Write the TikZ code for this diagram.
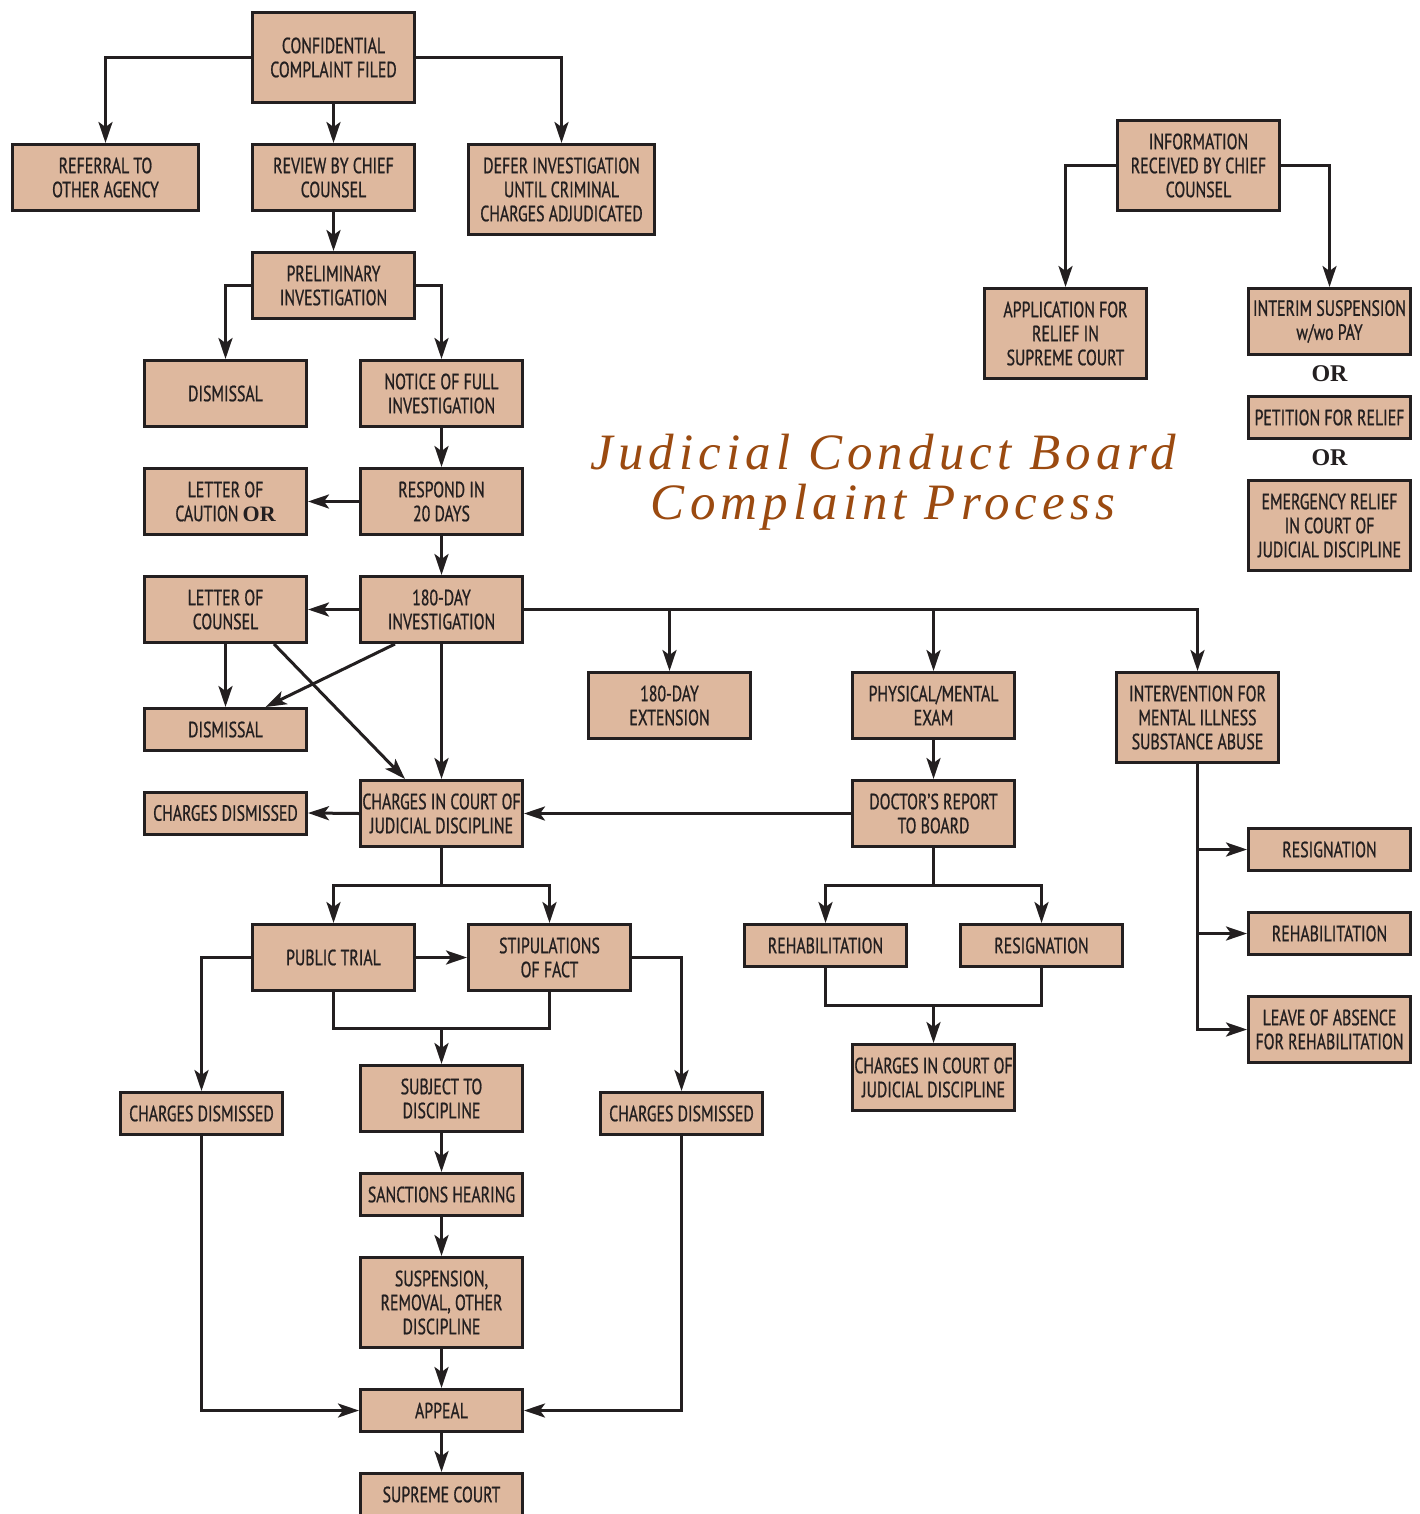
\documentclass[tikz,border=0pt]{standalone}
\usepackage{fontspec}
\setmainfont{PT Sans}[FakeStretch=0.72, FakeBold=0.8]
\newfontfamily\orfont{Liberation Serif}
\newfontfamily\titlefont{Liberation Serif Italic}[LetterSpace=10]
\usetikzlibrary{arrows.meta}
\definecolor{boxfill}{RGB}{222,184,158}
\definecolor{ink}{RGB}{35,31,32}
\definecolor{titlebrown}{RGB}{155,74,16}
\begin{document}
\begin{tikzpicture}[x=1pt,y=-1pt,
  box/.style={draw=ink, fill=boxfill, line width=3pt, minimum width=162pt, inner sep=0pt, align=center, font=\fontsize{22}{24}\selectfont, text=ink},
  wide/.style={minimum width=186pt},
  hone/.style={box, minimum height=42pt},
  htwo/.style={box, minimum height=66pt},
  hthree/.style={box, minimum height=90pt},
  conn/.style={draw=ink, line width=3pt},
  arr/.style={conn, -{Stealth[length=21pt,width=14pt,inset=5pt]}},
  ortext/.style={font=\orfont\bfseries\fontsize{24}{24}\selectfont, text=ink, inner sep=0pt},
  titletext/.style={font=\titlefont\fontsize{51}{50}\selectfont, text=titlebrown, inner sep=0pt, align=center},
]
\fill[white] (0,0) rectangle (1419,1514);
\clip (0,0) rectangle (1419,1514);
% left column boxes
\node[hthree] (conf) at (333.5,57.5) {CONFIDENTIAL\\COMPLAINT FILED};
\node[htwo,wide] (referral) at (105.5,177.5) {REFERRAL TO\\OTHER AGENCY};
\node[htwo] (review) at (333.5,177.5) {REVIEW BY CHIEF\\COUNSEL};
\node[hthree,wide] (defer) at (561.5,189.5) {DEFER INVESTIGATION\\UNTIL CRIMINAL\\CHARGES ADJUDICATED};
\node[htwo] (prelim) at (333.5,285.5) {PRELIMINARY\\INVESTIGATION};
\node[htwo] (dism1) at (225.5,393.5) {DISMISSAL};
\node[htwo] (notice) at (441.5,393.5) {NOTICE OF FULL\\INVESTIGATION};
\node[htwo] (caution) at (225.5,501.5) {LETTER OF\\CAUTION {\orfont\bfseries OR}};
\node[htwo] (respond) at (441.5,501.5) {RESPOND IN\\20 DAYS};
\node[htwo] (counsel) at (225.5,609.5) {LETTER OF\\COUNSEL};
\node[htwo] (inv180) at (441.5,609.5) {180-DAY\\INVESTIGATION};
\node[hone] (dism2) at (225.5,729.5) {DISMISSAL};
\node[htwo] (ext) at (669.5,705.5) {180-DAY\\EXTENSION};
\node[htwo] (phys) at (933.5,705.5) {PHYSICAL/MENTAL\\EXAM};
\node[hthree] (interv) at (1197.5,717.5) {INTERVENTION FOR\\MENTAL ILLNESS\\SUBSTANCE ABUSE};
\node[hone] (chdis1) at (225.5,813) {CHARGES DISMISSED};
\node[htwo] (charges) at (441.5,813.5) {CHARGES IN COURT OF\\JUDICIAL DISCIPLINE};
\node[htwo] (doctor) at (933.5,813.5) {DOCTOR’S REPORT\\TO BOARD};
\node[htwo] (trial) at (333.5,957.5) {PUBLIC TRIAL};
\node[htwo] (stip) at (549.5,957.5) {STIPULATIONS\\OF FACT};
\node[hone] (rehab1) at (825.5,945.5) {REHABILITATION};
\node[hone] (resign1) at (1041.5,945.5) {RESIGNATION};
\node[htwo] (charges2) at (933.5,1077.5) {CHARGES IN COURT OF\\JUDICIAL DISCIPLINE};
\node[hone] (resign2) at (1329.5,849.5) {RESIGNATION};
\node[hone] (rehab2) at (1329.5,933.5) {REHABILITATION};
\node[htwo] (leave) at (1329.5,1029.5) {LEAVE OF ABSENCE\\FOR REHABILITATION};
\node[hone] (chdisL) at (201.5,1113.5) {CHARGES DISMISSED};
\node[htwo] (subject) at (441.5,1098.5) {SUBJECT TO\\DISCIPLINE};
\node[hone] (chdisR) at (681.5,1113.5) {CHARGES DISMISSED};
\node[hone] (sanctions) at (441.5,1194.5) {SANCTIONS HEARING};
\node[hthree] (suspension) at (441.5,1302.5) {SUSPENSION,\\REMOVAL, OTHER\\DISCIPLINE};
\node[hone] (appeal) at (441.5,1410.5) {APPEAL};
\node[hone] (supreme) at (441.5,1494.5) {SUPREME COURT};
% right top
\node[hthree] (info) at (1198.5,165.5) {INFORMATION\\RECEIVED BY CHIEF\\COUNSEL};
\node[hthree] (app) at (1065.5,333.5) {APPLICATION FOR\\RELIEF IN\\SUPREME COURT};
\node[htwo] (interim) at (1329.5,321.5) {INTERIM SUSPENSION\\w/wo PAY};
\node[ortext] (or1) at (1329.5,374) {OR};
\node[hone] (petition) at (1329.5,417.5) {PETITION FOR RELIEF};
\node[ortext] (or2) at (1329.5,458) {OR};
\node[hthree] (emerg) at (1329.5,525.5) {EMERGENCY RELIEF\\IN COURT OF\\JUDICIAL DISCIPLINE};
% title
\node[titletext] (title) at (883,482) {Judicial Conduct Board\\Complaint Process};
% coordinates
\coordinate (f1) at (441.5,885);
\coordinate (j1) at (441.5,1028);
\coordinate (f2) at (933.5,885);
\coordinate (j2) at (933.5,1005);
% connectors
\draw[arr] (conf.west) -| (referral.north);
\draw[arr] (conf.south) -- (review.north);
\draw[arr] (conf.east) -| (defer.north);
\draw[arr] (review.south) -- (prelim.north);
\draw[arr] (prelim.west) -| (dism1.north);
\draw[arr] (prelim.east) -| (notice.north);
\draw[arr] (notice.south) -- (respond.north);
\draw[arr] (respond.west) -- (caution.east);
\draw[arr] (respond.south) -- (inv180.north);
\draw[arr] (inv180.west) -- (counsel.east);
\draw[arr] (inv180.east) -| (interv.north);
\draw[arr] (inv180.east) -| (ext.north);
\draw[arr] (inv180.east) -| (phys.north);
\draw[arr] (counsel.south) -- (dism2.north);
\draw[arr] ([xshift=-46.5pt]inv180.south) -- ([xshift=40pt]dism2.north);
\draw[arr] ([xshift=48.5pt]counsel.south) -- ([xshift=-36.5pt]charges.north);
\draw[arr] (inv180.south) -- (charges.north);
\draw[arr] (charges.west) -- (chdis1.east);
\draw[arr] (doctor.west) -- (charges.east);
\draw[arr] (phys.south) -- (doctor.north);
\draw[conn] (charges.south) -- (f1);
\draw[arr] (f1) -| (trial.north);
\draw[arr] (f1) -| (stip.north);
\draw[arr] (trial.east) -- (stip.west);
\draw[arr] (trial.west) -| (chdisL.north);
\draw[arr] (stip.east) -| (chdisR.north);
\draw[conn] (trial.south) |- (j1) -| (stip.south);
\draw[arr] (j1) -- (subject.north);
\draw[arr] (subject.south) -- (sanctions.north);
\draw[arr] (sanctions.south) -- (suspension.north);
\draw[arr] (suspension.south) -- (appeal.north);
\draw[arr] (appeal.south) -- (supreme.north);
\draw[arr] (chdisL.south) |- (appeal.west);
\draw[arr] (chdisR.south) |- (appeal.east);
\draw[conn] (doctor.south) -- (f2);
\draw[arr] (f2) -| (rehab1.north);
\draw[arr] (f2) -| (resign1.north);
\draw[conn] (rehab1.south) |- (j2) -| (resign1.south);
\draw[arr] (j2) -- (charges2.north);
\draw[arr] (interv.south) |- (resign2.west);
\draw[arr] (interv.south) |- (rehab2.west);
\draw[arr] (interv.south) |- (leave.west);
\draw[arr] (info.west) -| (app.north);
\draw[arr] (info.east) -| (interim.north);
\end{tikzpicture}
\end{document}
